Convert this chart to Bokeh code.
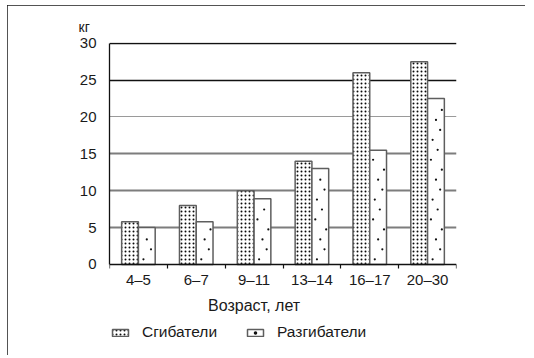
from bokeh.plotting import figure
from bokeh.models import (ColumnDataSource, Range1d, FixedTicker, Grid, Label,
                          Legend, LegendItem, InlineStyleSheet)
from bokeh.transform import dodge
from bokeh.embed import file_html
from bokeh.resources import INLINE

categories = ["4–5", "6–7", "9–11", "13–14", "16–17", "20–30"]
flexors = [5.8, 8.0, 10.0, 14.0, 26.0, 27.5]      # Сгибатели
extensors = [5.0, 5.8, 8.9, 13.0, 15.5, 22.5]     # Разгибатели
y_ticks = [0, 5, 10, 15, 20, 25, 30]
series_names = ["Сгибатели", "Разгибатели"]
y_unit = "кг"
x_title = "Возраст, лет"

FONT = "Liberation Sans"
TXT = "#1a1a1a"
W = 0.29

pos = [i + 0.5 for i in range(len(categories))]
bounds = [float(i) for i in range(len(categories) + 1)]
src = ColumnDataSource(dict(pos=pos, cat=categories, flex=flexors, ext=extensors))

# sparse speckle texture for the "Разгибатели" bars, laid out inside each bar
frac_cycle = [0.3, 0.75, 0.5, 0.85, 0.2, 0.6]
sx, sy = [], []
for c, top in zip(pos, extensors):
    k = 0
    yv = 0.7
    while yv < top - 0.4:
        sx.append(c + W * frac_cycle[k % len(frac_cycle)])
        sy.append(yv)
        k += 1
        yv += 1.35
speck = ColumnDataSource(dict(x=sx, y=sy))

# frame extends below the value axis so that the axis title and legend sit inside it
p = figure(output_backend="svg", toolbar_location=None,
           x_range=Range1d(0, len(categories)), y_range=Range1d(-11.67, 30.1),
           min_border_left=102, min_border_right=69, min_border_top=37,
           min_border_bottom=5, frame_width=347, frame_height=308)
p.stylesheets = [InlineStyleSheet(css=(
    ":host { margin: 5px 0 0 7px; width: 518px !important; height: 350px !important;"
    " overflow: hidden; outline: 2px solid #1a1a1a; outline-offset: -2px; }"))]
p.outline_line_color = None
p.background_fill_color = "white"
p.border_fill_color = "white"

p.title.text = y_unit
p.title.align = "left"
p.title.offset = -31
p.title.standoff = 16
p.title.text_font = FONT
p.title.text_font_size = "14px"
p.title.text_font_style = "normal"
p.title.text_color = TXT

# grids
p.xgrid.visible = False
p.ygrid.ticker = FixedTicker(ticks=[5, 10, 15])
p.ygrid.grid_line_color = "#7d7d7d"
p.ygrid.grid_line_width = 2
p.add_layout(Grid(dimension=1, ticker=FixedTicker(ticks=[20]), grid_line_color="#9a9a9a",
                  grid_line_width=1))
p.add_layout(Grid(dimension=1, ticker=FixedTicker(ticks=[25, 30]), grid_line_color="#111111",
                  grid_line_width=1.3))

r1 = p.vbar(x=dodge("pos", -W / 2, range=p.x_range), top="flex", width=W, source=src,
            fill_color="white", line_color="#5e5e5e", line_width=1.5,
            hatch_pattern="dot", hatch_scale=4, hatch_weight=1.5, hatch_color="#0a0a0a")
r2 = p.vbar(x=dodge("pos", W / 2, range=p.x_range), top="ext", width=W, source=src,
            fill_color="white", line_color="#5e5e5e", line_width=1.5)
r3 = p.scatter(x="x", y="y", source=speck, size=2.2, marker="circle",
               fill_color="#111111", line_color=None)

# x axis drawn at value 0: labels at centres, ticks at boundaries
xa = p.xaxis[0]
xa.fixed_location = 0
xa.ticker = FixedTicker(ticks=pos, minor_ticks=bounds)
xa.major_label_overrides = {pp: c for pp, c in zip(pos, categories)}
xa.major_tick_line_color = None
xa.major_tick_out = 0
xa.major_tick_in = 0
xa.minor_tick_line_color = "#111111"
xa.minor_tick_out = 4
xa.minor_tick_in = 0
xa.minor_tick_line_width = 1.2
xa.axis_line_color = "#111111"
xa.axis_line_width = 1.3
xa.major_label_standoff = 3
xa.major_label_text_font = FONT
xa.major_label_text_font_size = "15px"
xa.major_label_text_color = TXT

ya = p.yaxis[0]
ya.bounds = (0, 30)
ya.ticker = FixedTicker(ticks=y_ticks)
ya.major_tick_line_color = None
ya.major_tick_out = 0
ya.major_tick_in = 0
ya.minor_tick_line_color = None
ya.axis_line_color = "#111111"
ya.axis_line_width = 1.3
ya.major_label_standoff = 13
ya.major_label_text_font = FONT
ya.major_label_text_font_size = "15px"
ya.major_label_text_color = TXT

p.add_layout(Label(x=2.5, y=-5.6, text=x_title, text_align="center",
                   text_baseline="alphabetic", text_font=FONT, text_font_size="16px",
                   text_color=TXT))

legend = Legend(items=[LegendItem(label=series_names[0], renderers=[r1]),
                       LegendItem(label=series_names[1], renderers=[r2, r3])],
                orientation="horizontal", location=(1, 9),
                glyph_width=20, glyph_height=9, label_standoff=12, spacing=28,
                padding=0, margin=0, border_line_color=None,
                background_fill_alpha=0,
                label_text_font=FONT, label_text_font_size="15.5px",
                label_text_color=TXT)
p.add_layout(legend, "center")

open("out.html", "w").write(file_html(p, INLINE))
